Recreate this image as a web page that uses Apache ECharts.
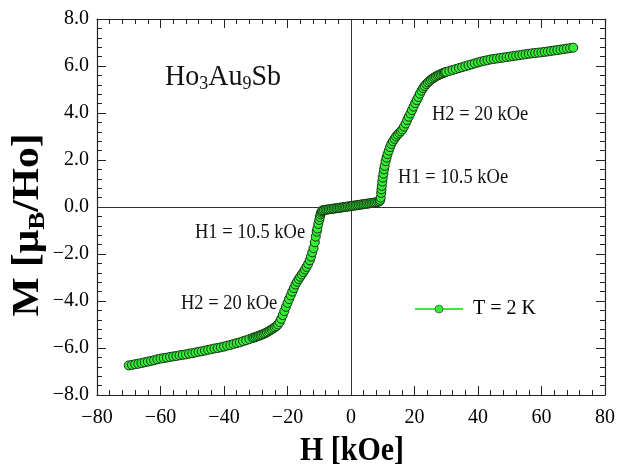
<!DOCTYPE html>
<html>
<head>
<meta charset="utf-8">
<script src="https://cdn.jsdelivr.net/npm/echarts@6/dist/echarts.min.js"></script>
<style>html,body{margin:0;padding:0;background:#fff}#c{width:618px;height:466px}</style>
</head>
<body>
<div id="c"></div>
<script>
// [H (kOe), M (muB/Ho)], sweep from -70 kOe to +70 kOe
const negHighField = [
  [-70,-6.74],[-69,-6.72],[-68,-6.69],[-67,-6.67],[-66,-6.64],[-65,-6.61],[-64,-6.58],[-63,-6.55],[-62,-6.52],[-61,-6.48],
  [-60,-6.45],[-59,-6.43],[-58,-6.41],[-57,-6.38],[-56,-6.36],[-55,-6.34],[-54,-6.31],[-53,-6.29],[-52,-6.27],[-51,-6.24],
  [-50,-6.22],[-49,-6.19],[-48,-6.16],[-47,-6.14],[-46,-6.11],[-45,-6.08],[-44,-6.05],[-43,-6.02],[-42,-6.00],[-41,-5.97],
  [-40,-5.94],[-39,-5.90],[-38,-5.87],[-37,-5.83],[-36,-5.79],[-35,-5.76],[-34,-5.71],[-33,-5.67],[-32,-5.62],[-31,-5.57]
];
const negTransition = [
  [-30.5,-5.55],[-30,-5.53],[-29.5,-5.50],[-29,-5.48],[-28.5,-5.45],[-28,-5.43],[-27.5,-5.40],[-27,-5.37],[-26.5,-5.33],[-26,-5.29],
  [-25.5,-5.25],[-25,-5.21],[-24.5,-5.17],[-24,-5.12],[-23.5,-5.07],[-23,-5.00],[-22.5,-4.90],[-22,-4.76],[-21.5,-4.60],[-21,-4.43],
  [-20.5,-4.25],[-20,-4.08],[-19.5,-3.92],[-19,-3.76],[-18.5,-3.60],[-18,-3.45],[-17.5,-3.30],[-17,-3.18],[-16.5,-3.07],[-16,-2.97],
  [-15.5,-2.87],[-15,-2.77],[-14.5,-2.66],[-14,-2.55],[-13.5,-2.42],[-13,-2.27],[-12.6,-2.11],[-12.2,-1.93],[-11.8,-1.75],[-11.4,-1.50],
  [-11.1,-1.26],[-10.8,-1.05],[-10.6,-0.92],[-10.3,-0.72],[-10.0,-0.55],[-9.8,-0.43],[-9.6,-0.32],[-9.4,-0.24],[-9.2,-0.18]
];
const lowField = [
  [-9,-0.14],[-8.5,-0.13],[-8,-0.12],[-7.5,-0.11],[-7,-0.10],[-6.5,-0.09],[-6,-0.08],[-5.5,-0.07],[-5,-0.06],[-4.5,-0.05],
  [-4,-0.04],[-3.5,-0.03],[-3,-0.02],[-2.5,-0.01],[-2,0.00],[-1.5,0.01],[-1,0.02],[-0.5,0.03],[0,0.04],[0.5,0.05],
  [1,0.06],[1.5,0.07],[2,0.08],[2.5,0.09],[3,0.10],[3.5,0.11],[4,0.12],[4.5,0.13],[5,0.14],[5.5,0.15],
  [6,0.16],[6.5,0.17],[7,0.18],[7.5,0.19],[8,0.20],[8.5,0.22],[9,0.24]
];
const posTransition = [
  [9.2,0.30],[9.35,0.40],[9.5,0.60],[9.6,0.75],[9.7,0.90],[9.85,1.08],[10.0,1.25],[10.2,1.42],[10.4,1.60],[10.6,1.75],
  [10.9,1.95],[11.2,2.10],[11.5,2.25],[11.9,2.40],[12.3,2.55],[12.7,2.68],[13.2,2.80],[13.7,2.90],[14.2,3.00],[14.7,3.08],
  [15.2,3.15],[15.7,3.22],[16.2,3.30],[16.7,3.42],[17.2,3.55],[17.7,3.70],[18.2,3.84],[18.7,3.98],[19.2,4.12],[19.7,4.27],
  [20.2,4.42],[20.7,4.55],[21.2,4.68],[21.7,4.82],[22.2,4.95],[22.7,5.06],[23.2,5.15],[23.7,5.23],[24.2,5.30],[24.7,5.36],
  [25.2,5.42],[25.7,5.47],[26.2,5.51],[26.7,5.55],[27.2,5.59],[27.7,5.62],[28.2,5.65],[28.7,5.68],[29.2,5.71],[29.6,5.73]
];
const posHighField = [
  [30,5.75],[31,5.79],[32,5.83],[33,5.87],[34,5.91],[35,5.95],[36,5.99],[37,6.03],[38,6.07],[39,6.11],
  [40,6.15],[41,6.19],[42,6.22],[43,6.25],[44,6.28],[45,6.30],[46,6.32],[47,6.34],[48,6.36],[49,6.38],
  [50,6.40],[51,6.42],[52,6.44],[53,6.46],[54,6.48],[55,6.50],[56,6.52],[57,6.54],[58,6.55],[59,6.57],
  [60,6.58],[61,6.60],[62,6.62],[63,6.64],[64,6.66],[65,6.68],[66,6.70],[67,6.72],[68,6.74],[69,6.76],[70,6.78]
];
const seriesName = 'T = 2 K';
const xTickLabels = [-80, -60, -40, -20, 0, 20, 40, 60, 80];
const yTickLabels = [-8, -6, -4, -2, 0, 2, 4, 6, 8];

const data = [].concat(negHighField, negTransition, lowField, posTransition, posHighField);
const serif = 'Liberation Serif, Times New Roman, serif';
const minus = s => String(s).replace('-', '\u2212');
const green = '#33ee33';

const chart = echarts.init(document.getElementById('c'), null, {renderer: 'canvas'});

function axisCommon(extra) {
  return Object.assign({
    type: 'value',
    axisLine: {show: true, onZero: false, lineStyle: {color: '#222', width: 1.2}},
    axisTick: {show: true, inside: true, length: 9, lineStyle: {color: '#222', width: 1}},
    minorTick: {show: true, splitNumber: 5, length: 5, lineStyle: {color: '#222', width: 1}},
    splitLine: {show: false},
    minorSplitLine: {show: false}
  }, extra);
}

function note(x, y, text, size, sy) {
  return {type: 'text', x: x, y: y, scaleY: sy, z: 10,
    style: {text: text, x: 0, y: 0, align: 'left', verticalAlign: 'middle',
      fontFamily: serif, fontSize: size, fill: '#111'}};
}

chart.setOption({
  animation: false,
  backgroundColor: '#fff',
  grid: {left: 97, right: 11, top: 19, bottom: 71},
  xAxis: [
    axisCommon({
      position: 'bottom', min: xTickLabels[0], max: xTickLabels[xTickLabels.length - 1], interval: 20,
      axisLabel: {color: '#000', fontFamily: serif, fontSize: 20, margin: 13, formatter: v => minus(v)}
    }),
    axisCommon({
      position: 'top', min: -80, max: 80, interval: 20, axisLabel: {show: false}
    })
  ],
  yAxis: [
    axisCommon({
      position: 'left', min: yTickLabels[0], max: yTickLabels[yTickLabels.length - 1], interval: 2,
      axisLabel: {color: '#000', fontFamily: serif, fontSize: 20, margin: 8, formatter: v => minus(v.toFixed(1))}
    }),
    axisCommon({
      position: 'right', min: -8, max: 8, interval: 2, axisLabel: {show: false}
    })
  ],
  legend: {
    show: true, left: 409, top: 294, itemWidth: 48, itemHeight: 10, itemGap: 0,
    textStyle: {fontFamily: serif, fontSize: 20, color: '#000', padding: [0, 0, 0, 5]},
    data: [{name: seriesName, itemStyle: {color: green, borderColor: '#333', borderWidth: 0.6}}]
  },
  series: [{
    name: seriesName,
    type: 'line',
    data: data,
    symbol: 'circle',
    symbolSize: 9,
    lineStyle: {color: green, width: 2},
    itemStyle: {color: green, borderColor: '#143014', borderWidth: 1},
    z: 5,
    markLine: {
      silent: true, symbol: 'none', label: {show: false}, animation: false,
      lineStyle: {color: '#333', width: 1, type: 'solid'},
      data: [{xAxis: 0}, {yAxis: 0}]
    }
  }],
  graphic: [
    {type: 'text', x: 352, y: 451, scaleY: 1.1, z: 10, style: {
      text: 'H [kOe]', x: 0, y: 0, align: 'center', verticalAlign: 'middle',
      fontFamily: serif, fontWeight: 'bold', fontSize: 30, fill: '#000'}},
    {type: 'text', x: 28, y: 225, rotation: Math.PI / 2, scaleX: 1.12, z: 10, style: {
      x: 0, y: 0, align: 'center', verticalAlign: 'middle',
      rich: {
        m: {fontFamily: serif, fontWeight: 'bold', fontSize: 37, fill: '#000'},
        s: {fontFamily: serif, fontWeight: 'bold', fontSize: 24, fill: '#000', padding: [19, 0, 0, 0]}
      },
      text: '{m|M [\u03bc}{s|B}{m|/Ho]}'
    }},
    {type: 'text', x: 165, y: 77, scaleY: 1.05, z: 10, style: {
      x: 0, y: 0, align: 'left', verticalAlign: 'middle',
      rich: {
        a: {fontFamily: serif, fontSize: 28, fill: '#111'},
        b: {fontFamily: serif, fontSize: 18, fill: '#111', padding: [14, 0, 0, 0]}
      },
      text: '{a|Ho}{b|3}{a|Au}{b|9}{a|Sb}'
    }},
    note(432, 115, 'H2 = 20 kOe', 18.5, 1.1),
    note(398, 178, 'H1 = 10.5 kOe', 18.5, 1.1),
    note(195, 233, 'H1 = 10.5 kOe', 18.5, 1.1),
    note(181, 304, 'H2 = 20 kOe', 18.5, 1.1)
  ]
});
</script>
</body>
</html>
